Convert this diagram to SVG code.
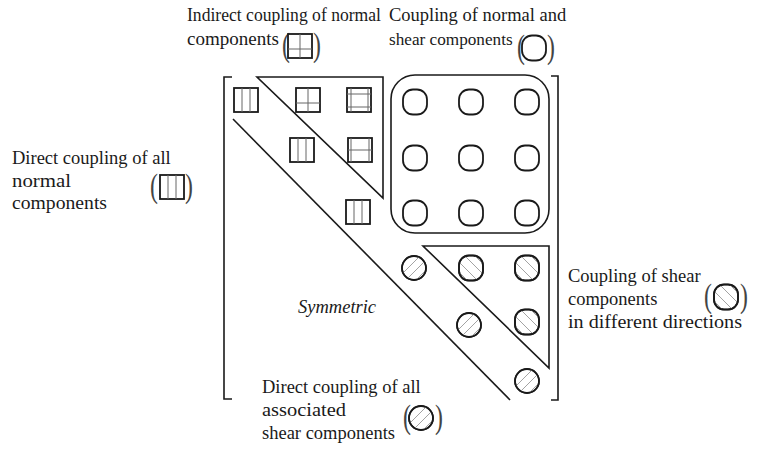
<svg xmlns="http://www.w3.org/2000/svg" xmlns:xlink="http://www.w3.org/1999/xlink" width="765" height="450" viewBox="0 0 765 450">
<style>
text{font-family:"Liberation Serif","Times New Roman",serif;font-size:18.5px;fill:#1a1a1a}
.it{font-style:italic}
.par{font-size:34px;fill:#444}
.ln{fill:none;stroke:#1a1a1a;stroke-width:1.6}
.bx{fill:#fff;stroke:#1a1a1a;stroke-width:1.8}
.in{stroke:#666;stroke-width:1}
.ha{stroke:#999;stroke-width:0.9}
</style>
<defs>
<clipPath id="cc"><circle cx="0" cy="0" r="12"/></clipPath>
<clipPath id="cr"><rect x="-12" y="-12.5" width="24" height="25" rx="10"/></clipPath>
<g id="ring"><rect class="bx" x="-12" y="-12.5" width="24" height="25" rx="10"/></g>
<g id="dsh">
<circle class="bx" cx="0" cy="0" r="12"/>
<g clip-path="url(#cc)" class="ha"><line x1="-16" y1="10" x2="10" y2="-16"/><line x1="-12" y1="16" x2="16" y2="-12"/><line x1="-6" y1="20" x2="20" y2="-6"/></g>
<circle cx="0" cy="0" r="12" class="ln"/>
</g>
<g id="sds">
<rect class="bx" x="-12" y="-12.5" width="24" height="25" rx="10"/>
<g clip-path="url(#cr)" class="ha"><line x1="-18" y1="-12" x2="12" y2="18"/><line x1="-12" y1="-18" x2="18" y2="12"/><line x1="-20" y1="-4" x2="4" y2="20"/><line x1="-4" y1="-20" x2="20" y2="4"/></g>
<rect x="-12" y="-12.5" width="24" height="25" rx="10" class="ln"/>
</g>
<g id="nv"><rect class="bx" x="-12" y="-12" width="24" height="24"/><line class="in" x1="-4" y1="-12" x2="-4" y2="12"/><line class="in" x1="4" y1="-12" x2="4" y2="12"/></g>
<g id="nc"><rect class="bx" x="-12" y="-12" width="24" height="24"/><line class="in" x1="0" y1="-12" x2="0" y2="12"/><line class="in" x1="-12" y1="3" x2="12" y2="3"/></g>
<g id="nf"><rect class="bx" x="-12" y="-12" width="24" height="24"/><line class="in" x1="-12" y1="-6" x2="12" y2="-6"/><line class="in" x1="-12" y1="7" x2="12" y2="7"/><line class="in" x1="-8" y1="-12" x2="-8" y2="12"/><line class="in" x1="9" y1="-12" x2="9" y2="12"/></g>
<g id="nh"><rect class="bx" x="-12" y="-12" width="24" height="24"/><line class="in" x1="-12" y1="0" x2="12" y2="0"/><line class="in" x1="-9" y1="-12" x2="-9" y2="12"/><line class="in" x1="9" y1="-12" x2="9" y2="12"/></g>
</defs>
<rect width="765" height="450" fill="#fff"/>

<g id="connectors">
<path class="ln" d="M232,77 H224 V399 H232"/>
<path class="ln" d="M551,76 H558 V400 H551"/>
<polygon class="ln" points="257,77 383,77 383,198"/>
<line class="ln" x1="233" y1="119" x2="510" y2="400"/>
<polygon class="ln" points="423,246 549,246 549,368"/>
<rect class="ln" x="391" y="75" width="158" height="158" rx="24"/>
</g>

<g id="normal-cells">
<use xlink:href="#nv" x="246" y="100"/>
<use xlink:href="#nc" x="308" y="100"/>
<use xlink:href="#nf" x="359" y="100"/>
<use xlink:href="#nv" x="302" y="150"/>
<use xlink:href="#nh" x="360" y="150"/>
<use xlink:href="#nv" x="358" y="212"/>
</g>
<g id="normal-shear-cells">
<use xlink:href="#ring" x="415" y="102"/><use xlink:href="#ring" x="471" y="102"/><use xlink:href="#ring" x="527" y="102"/>
<use xlink:href="#ring" x="415" y="158"/><use xlink:href="#ring" x="471" y="158"/><use xlink:href="#ring" x="527" y="158"/>
<use xlink:href="#ring" x="415" y="213"/><use xlink:href="#ring" x="471" y="213"/><use xlink:href="#ring" x="527" y="213"/>
</g>
<g id="shear-cells">
<use xlink:href="#dsh" x="414" y="268"/>
<use xlink:href="#sds" x="471" y="268"/>
<use xlink:href="#sds" x="527" y="268"/>
<use xlink:href="#dsh" x="469" y="325"/>
<use xlink:href="#sds" x="527" y="322"/>
<use xlink:href="#dsh" x="527" y="381"/>
</g>

<g id="label-indirect">
<text x="187" y="21" textLength="194" lengthAdjust="spacingAndGlyphs">Indirect coupling of normal</text>
<text x="187" y="45" textLength="92" lengthAdjust="spacingAndGlyphs">components</text>
<text class="par" transform="translate(282,56) scale(0.7,1)">(</text><use xlink:href="#nc" x="300" y="46"/><text class="par" transform="translate(313,56) scale(0.7,1)">)</text>
</g>
<g id="label-normal-shear">
<text x="389" y="21">Coupling of normal and</text>
<text x="389" y="45" style="font-size:17.2px">shear components</text>
<text class="par" transform="translate(517,58) scale(0.7,1)">(</text><use xlink:href="#ring" x="534" y="48"/><text class="par" transform="translate(547,58) scale(0.7,1)">)</text>
</g>
<g id="label-direct-normal">
<text x="12" y="164">Direct coupling of all</text>
<text x="12" y="187" textLength="59" lengthAdjust="spacingAndGlyphs">normal</text>
<text x="12" y="209" textLength="95" lengthAdjust="spacingAndGlyphs">components</text>
<text class="par" transform="translate(150,197) scale(0.7,1)">(</text><use xlink:href="#nv" x="172" y="187"/><text class="par" transform="translate(185,197) scale(0.7,1)">)</text>
</g>
<g id="label-symmetric"><text class="it" x="298" y="313">Symmetric</text></g>
<g id="label-shear-dir">
<text x="568" y="282">Coupling of shear</text>
<text x="568" y="305">components</text>
<text x="568" y="328" textLength="174" lengthAdjust="spacingAndGlyphs">in different directions</text>
<text class="par" transform="translate(704,307) scale(0.7,1)">(</text><use xlink:href="#sds" x="726" y="297"/><text class="par" transform="translate(740,307) scale(0.7,1)">)</text>
</g>
<g id="label-direct-shear">
<text x="262" y="393">Direct coupling of all</text>
<text x="262" y="416" textLength="84" lengthAdjust="spacingAndGlyphs">associated</text>
<text x="262" y="439">shear components</text>
<text class="par" transform="translate(403,428) scale(0.7,1)">(</text><use xlink:href="#dsh" x="421" y="418"/><text class="par" transform="translate(435,428) scale(0.7,1)">)</text>
</g>
</svg>
